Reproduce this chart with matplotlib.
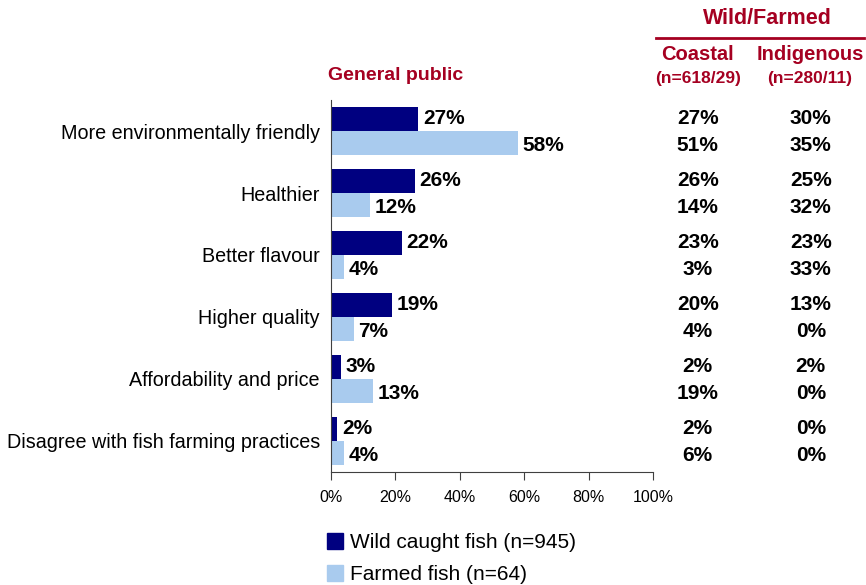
import numpy as np
import matplotlib.pyplot as plt
from matplotlib.patches import Patch

plt.rcParams['font.family'] = ['Liberation Sans', 'DejaVu Sans']

categories = ["More environmentally friendly", "Healthier", "Better flavour",
              "Higher quality", "Affordability and price",
              "Disagree with fish farming practices"]
wild = [27, 26, 22, 19, 3, 2]
farmed = [58, 12, 4, 7, 13, 4]
coastal_wild = [27, 26, 23, 20, 2, 2]
coastal_farmed = [51, 14, 3, 4, 19, 6]
indig_wild = [30, 25, 23, 13, 2, 0]
indig_farmed = [35, 32, 33, 0, 0, 0]

RED = '#A50021'
NAVY = '#000080'
LIGHT = '#A9CBEE'

fig = plt.figure(figsize=(8.66, 5.85), dpi=100)
ax = fig.add_axes([331 / 866, 1 - 472 / 585, 322 / 866, 372 / 585])

y = np.arange(len(categories))
h = 0.395
ax.barh(y - h / 2, wild, height=h, color=NAVY, label='Wild caught fish (n=945)')
ax.barh(y + h / 2, farmed, height=h, color=LIGHT, label='Farmed fish (n=64)')

vfs = 15
ytr = ax.get_yaxis_transform()
for i in range(len(categories)):
    ax.text(wild[i] + 1.5, y[i] - h / 2, f"{wild[i]}%", va='center', ha='left',
            fontsize=vfs, fontweight='bold')
    ax.text(farmed[i] + 1.5, y[i] + h / 2 + 0.03, f"{farmed[i]}%", va='center', ha='left',
            fontsize=vfs, fontweight='bold')
    # right-hand columns
    ax.text(1.139, y[i] - h / 2, f"{coastal_wild[i]}%", transform=ytr,
            va='center', ha='center', fontsize=vfs, fontweight='bold')
    ax.text(1.139, y[i] + h / 2 + 0.03, f"{coastal_farmed[i]}%", transform=ytr,
            va='center', ha='center', fontsize=vfs, fontweight='bold')
    ax.text(1.49, y[i] - h / 2, f"{indig_wild[i]}%", transform=ytr,
            va='center', ha='center', fontsize=vfs, fontweight='bold')
    ax.text(1.49, y[i] + h / 2 + 0.03, f"{indig_farmed[i]}%", transform=ytr,
            va='center', ha='center', fontsize=vfs, fontweight='bold')

ax.set_xlim(0, 100)
ax.set_ylim(len(categories) - 0.5, -0.5)
ax.set_yticks(y)
ax.set_yticklabels(categories, fontsize=14.2)
ax.tick_params(axis='y', length=0, pad=8)
ax.set_xticks(np.arange(0, 101, 20))
ax.set_xticklabels([f"{v}%" for v in range(0, 101, 20)], fontsize=11.5)
ax.tick_params(axis='x', length=6, width=0.8, color='#404040', pad=7)
for s in ['top', 'right']:
    ax.spines[s].set_visible(False)
ax.spines['left'].set_color('#404040')
ax.spines['bottom'].set_color('#404040')

# headers
fig.text(396 / 866, 1 - 76 / 585, "General public", color=RED, fontsize=14,
         fontweight='bold', ha='center', va='center')
fig.text(767 / 866, 1 - 18 / 585, "Wild/Farmed", color=RED, fontsize=15.5,
         fontweight='bold', ha='center', va='center')
fig.add_artist(plt.Line2D([656 / 866, 864 / 866], [1 - 38 / 585, 1 - 38 / 585],
                          color=RED, linewidth=2))
fig.text(697 / 866, 1 - 54 / 585, "Coastal", color=RED, fontsize=14.5,
         fontweight='bold', ha='center', va='center')
fig.text(698 / 866, 1 - 79 / 585, "(n=618/29)", color=RED, fontsize=12.5,
         fontweight='bold', ha='center', va='center')
fig.text(810 / 866, 1 - 54 / 585, "Indigenous", color=RED, fontsize=14.5,
         fontweight='bold', ha='center', va='center')
fig.text(810 / 866, 1 - 79 / 585, "(n=280/11)", color=RED, fontsize=12.5,
         fontweight='bold', ha='center', va='center')

handles = [Patch(color=NAVY, label='Wild caught fish (n=945)'),
           Patch(color=LIGHT, label='Farmed fish (n=64)')]
fig.legend(handles=handles, loc='upper left', bbox_to_anchor=(319 / 866, 1 - 525 / 585),
           frameon=False, fontsize=15, handlelength=0.75, handleheight=0.75,
           handletextpad=0.35, labelspacing=0.62, borderaxespad=0)

fig.savefig('out.png', dpi=100)
